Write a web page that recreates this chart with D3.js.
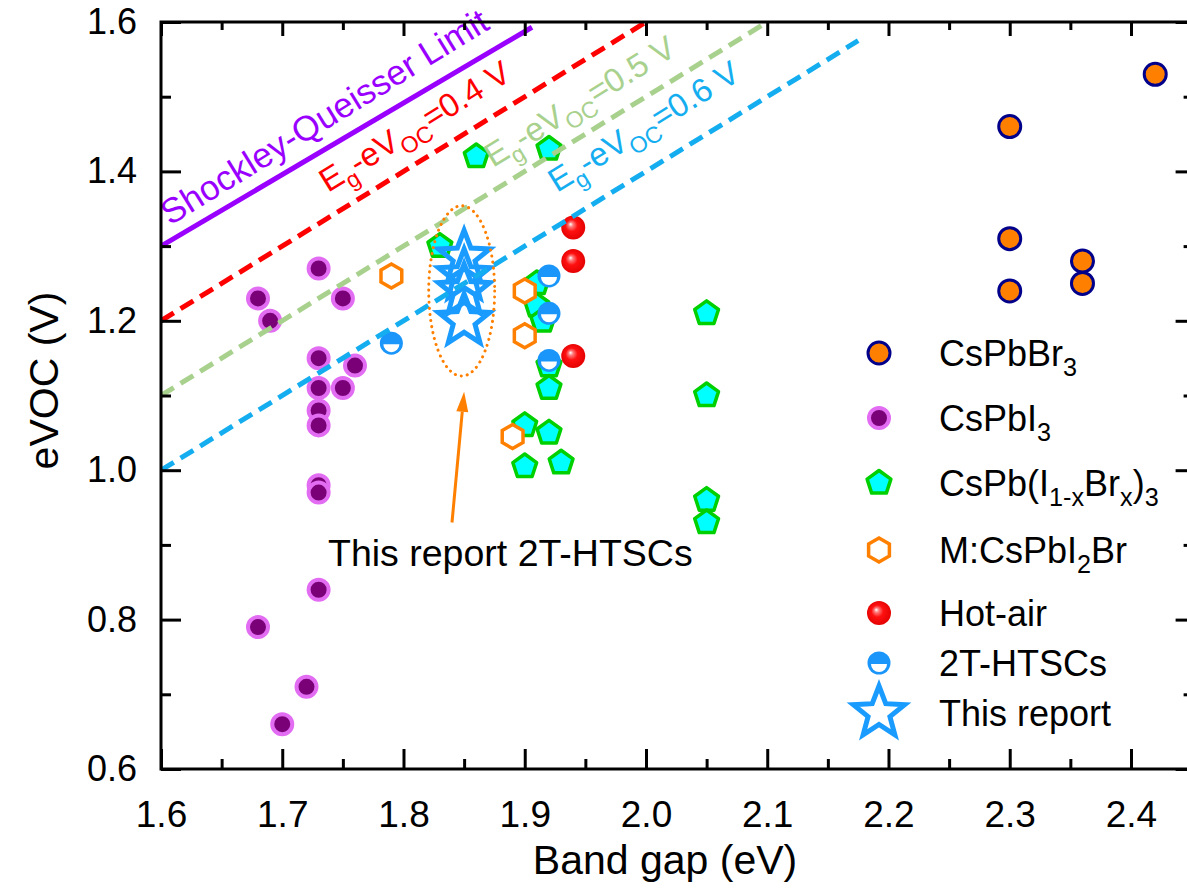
<!DOCTYPE html>
<html>
<head>
<meta charset="utf-8">
<script src="https://cdn.jsdelivr.net/npm/d3@7"></script>
<style>
  body { margin: 0; background: #fff; }
  svg { display: block; font-family: "Liberation Sans", Arial, sans-serif; }
</style>
</head>
<body>
<script>
// ---- data ----
const xTicks = [1.6, 1.7, 1.8, 1.9, 2.0, 2.1, 2.2, 2.3, 2.4];
const yTicks = [0.6, 0.8, 1.0, 1.2, 1.4, 1.6];

const cspbbr3X = [2.30, 2.30, 2.30, 2.36, 2.36, 2.42];
const cspbbr3Y = [1.46, 1.31, 1.24, 1.28, 1.25, 1.53];

const cspbi3X = [1.68, 1.69, 1.73, 1.75, 1.73, 1.76, 1.73, 1.75, 1.73, 1.73, 1.73, 1.73, 1.73, 1.68, 1.72, 1.70];
const cspbi3Y = [1.23, 1.20, 1.27, 1.23, 1.15, 1.14, 1.11, 1.11, 1.08, 1.06, 0.98, 0.97, 0.84, 0.79, 0.71, 0.66];

const mixedX = [1.86, 1.92, 1.83, 1.91, 1.91, 1.915, 1.92, 1.92, 1.90, 1.92, 1.90, 1.93, 2.05, 2.05, 2.05, 2.05];
const mixedY = [1.42, 1.43, 1.30, 1.25, 1.22, 1.20, 1.14, 1.11, 1.06, 1.05, 1.005, 1.01, 1.21, 1.10, 0.96, 0.93];

const dopedX = [1.79, 1.90, 1.90, 1.89];
const dopedY = [1.26, 1.24, 1.18, 1.045];

const hotAirX = [1.94, 1.94, 1.94];
const hotAirY = [1.325, 1.28, 1.153];

const htscX = [1.79, 1.92, 1.92, 1.92];
const htscY = [1.17, 1.26, 1.21, 1.147];

const reportX = [1.85, 1.85, 1.85, 1.85];
const reportY = [1.285, 1.26, 1.24, 1.20];

// reference lines: Shockley-Queisser limit and Eg - eVoc offsets
const sqX = [1.60, 1.906];
const sqY = [1.30, 1.593];
const offsetValues = [0.4, 0.5, 0.6];
const offsetEndX = [2.0, 2.1, 2.175];

// ---- layout ----
const W = 1187, H = 890;
const x = d3.scaleLinear().domain([1.6, 2.45]).range([161, 1191.6]);
const y = d3.scaleLinear().domain([0.6, 1.6]).range([769, 22]);

const svg = d3.select("body").append("svg").attr("width", W).attr("height", H);
const defs = svg.append("defs");

const grad = defs.append("radialGradient").attr("id", "sphere")
  .attr("cx", "0.5").attr("cy", "0.5").attr("r", "0.55").attr("fx", "0.38").attr("fy", "0.36");
grad.append("stop").attr("offset", "0").attr("stop-color", "#ffffff");
grad.append("stop").attr("offset", "0.18").attr("stop-color", "#ff7a7a");
grad.append("stop").attr("offset", "0.45").attr("stop-color", "#ff1010");
grad.append("stop").attr("offset", "1").attr("stop-color", "#e00000");

defs.append("clipPath").attr("id", "plotClip").append("rect")
  .attr("x", x(1.6)).attr("y", y(1.6)).attr("width", x(2.45) - x(1.6)).attr("height", y(0.6) - y(1.6));

// ---- marker shapes ----
function polygonPath(n, R, rot) {
  const pts = d3.range(n).map(i => {
    const a = rot + i * 2 * Math.PI / n;
    return [R * Math.cos(a), R * Math.sin(a)];
  });
  return "M" + pts.map(p => p.join(",")).join("L") + "Z";
}
function starPath(R, r) {
  const pts = d3.range(10).map(i => {
    const a = -Math.PI / 2 + i * Math.PI / 5;
    const rr = i % 2 === 0 ? R : r;
    return [rr * Math.cos(a), rr * Math.sin(a)];
  });
  return "M" + pts.map(p => p.join(",")).join("L") + "Z";
}

const markers = {
  cspbbr3: g => g.append("circle").attr("r", 11).attr("fill", "#ff8000").attr("stroke", "#00008b").attr("stroke-width", 3),
  cspbi3: g => g.append("circle").attr("r", 10).attr("fill", "#7a0078").attr("stroke", "#e26cf2").attr("stroke-width", 4),
  mixed: g => g.append("path").attr("d", polygonPath(5, 12.5, -Math.PI / 2)).attr("fill", "#00ffff").attr("stroke", "#00d000").attr("stroke-width", 3.5).attr("stroke-linejoin", "round"),
  doped: g => g.append("path").attr("d", polygonPath(6, 12, -Math.PI / 2)).attr("fill", "#ffffff").attr("stroke", "#ff8000").attr("stroke-width", 3.5),
  hotAir: g => g.append("circle").attr("r", 12).attr("fill", "url(#sphere)"),
  htsc: g => {
    g.append("circle").attr("r", 11.5).attr("fill", "#1a96fa");
    g.append("path").attr("d", "M-8,1 A8,8 0 0,0 8,1 Z").attr("fill", "#ffffff");
  },
  report: g => g.append("path").attr("d", starPath(27, 11.5)).attr("fill", "none").attr("stroke", "#1a9bff").attr("stroke-width", 5).attr("stroke-linejoin", "miter")
};

const series = [
  { key: "cspbbr3", xs: cspbbr3X, ys: cspbbr3Y },
  { key: "cspbi3", xs: cspbi3X, ys: cspbi3Y },
  { key: "mixed", xs: mixedX, ys: mixedY },
  { key: "doped", xs: dopedX, ys: dopedY },
  { key: "hotAir", xs: hotAirX, ys: hotAirY },
  { key: "htsc", xs: htscX, ys: htscY },
  { key: "report", xs: reportX, ys: reportY }
];

const plot = svg.append("g").attr("clip-path", "url(#plotClip)");

series.forEach(s => {
  const pts = s.xs.map((v, i) => ({ x: v, y: s.ys[i] }));
  plot.append("g").selectAll("g").data(pts).join("g")
    .attr("transform", d => `translate(${x(d.x)},${y(d.y)})`)
    .each(function () { markers[s.key](d3.select(this)); });
});

// ---- reference lines ----
const line = d3.line().x(d => x(d[0])).y(d => y(d[1]));
plot.append("path").attr("d", line(sqX.map((v, i) => [v, sqY[i]])))
  .attr("stroke", "#9a00ff").attr("stroke-width", 5).attr("fill", "none");

const offsetColors = ["#ff0000", "#a9d18e", "#14aef0"];
offsetValues.forEach((off, i) => {
  plot.append("path")
    .attr("d", line([[1.6, 1.6 - off], [offsetEndX[i], offsetEndX[i] - off]]))
    .attr("stroke", offsetColors[i]).attr("stroke-width", 5)
    .attr("stroke-dasharray", "15,8").attr("fill", "none");
});

// angle of a unit-slope line in screen space
const angle = Math.atan2(y(1) - y(0), x(1) - x(0)) * 180 / Math.PI;

// text with subscripts, shifting the baseline only where it changes
function rich(textSel, parts, size) {
  let shift = 0;
  parts.forEach(p => {
    const t = textSel.append("tspan").text(p.t);
    const target = p.sub ? size * 0.28 : 0;
    if (target !== shift) { t.attr("dy", target - shift); shift = target; }
    if (p.sub) t.attr("font-size", size * 0.7);
  });
}

function slopeLabel(px, py, parts, color, size) {
  const t = svg.append("text")
    .attr("transform", `translate(${px},${py}) rotate(${angle})`)
    .attr("fill", color).attr("font-size", size);
  rich(t, parts, size);
}
slopeLabel(170, 226, [{ t: "Shockley-Queisser Limit" }], "#9a00ff", 35);
const offsetLabelPos = [[328, 193], [493, 168], [557, 193]];
offsetValues.forEach((off, i) => {
  slopeLabel(offsetLabelPos[i][0], offsetLabelPos[i][1],
    [{ t: "E" }, { t: "g", sub: true }, { t: "-eV" }, { t: "OC", sub: true }, { t: "=" + off.toFixed(1) + " V" }],
    offsetColors[i], 33);
});

// ---- highlight ellipse and arrow ----
svg.append("ellipse")
  .attr("cx", x(1.848)).attr("cy", y(1.24))
  .attr("rx", x(1.6 + 0.0272) - x(1.6)).attr("ry", y(0.6) - y(0.6 + 0.114))
  .attr("fill", "none").attr("stroke", "#ff8000").attr("stroke-width", 3)
  .attr("stroke-dasharray", "0.1,6").attr("stroke-linecap", "round");

const arrowFrom = [1.84, 0.93], arrowTo = [1.85, 1.105];
const ax0 = x(arrowFrom[0]), ay0 = y(arrowFrom[1]), ax1 = x(arrowTo[0]), ay1 = y(arrowTo[1]);
const ang = Math.atan2(ay1 - ay0, ax1 - ax0);
const headLen = 20, headW = 6;
const bx = ax1 - headLen * Math.cos(ang), by = ay1 - headLen * Math.sin(ang);
svg.append("line").attr("x1", ax0).attr("y1", ay0).attr("x2", bx).attr("y2", by)
  .attr("stroke", "#ff8000").attr("stroke-width", 3);
svg.append("path")
  .attr("d", `M${ax1},${ay1}L${bx + headW * Math.sin(ang)},${by - headW * Math.cos(ang)}L${bx - headW * Math.sin(ang)},${by + headW * Math.cos(ang)}Z`)
  .attr("fill", "#ff8000");

svg.append("text").attr("x", 328).attr("y", 566).attr("font-size", 37.5).attr("fill", "#000")
  .text("This report 2T-HTSCs");

// ---- legend ----
const legendLabels = [
  [{ t: "CsPbBr" }, { t: "3", sub: true }],
  [{ t: "CsPbI" }, { t: "3", sub: true }],
  [{ t: "CsPb(I" }, { t: "1-x", sub: true }, { t: "Br" }, { t: "x", sub: true }, { t: ")" }, { t: "3", sub: true }],
  [{ t: "M:CsPbI" }, { t: "2", sub: true }, { t: "Br" }],
  [{ t: "Hot-air" }],
  [{ t: "2T-HTSCs" }],
  [{ t: "This report" }]
];
const legendRows = [353, 418, 483, 550, 613, 663, 713];
series.forEach((s, i) => {
  const g = svg.append("g").attr("transform", `translate(879,${legendRows[i]})`);
  markers[s.key](g);
  const t = svg.append("text").attr("x", 939).attr("y", legendRows[i] + 13)
    .attr("font-size", 36).attr("fill", "#000");
  rich(t, legendLabels[i], 36);
});

// ---- axes and frame ----
const minorX = d3.range(1.65, 2.45, 0.1);
const minorY = d3.range(0.7, 1.6, 0.2);

function styleAxis(g) {
  g.select(".domain").remove();
  g.selectAll(".tick line").attr("stroke", "#000").attr("stroke-width", 3);
  g.selectAll(".tick text").attr("fill", "#000").attr("font-family", "'Liberation Sans', Arial, sans-serif");
}

svg.append("g").attr("transform", `translate(0,${y(0.6)})`)
  .call(d3.axisBottom(x).tickValues(xTicks).tickSize(-20).tickPadding(32).tickFormat(d3.format(".1f")))
  .call(styleAxis).call(g => g.selectAll(".tick text").attr("font-size", 37));
svg.append("g").attr("transform", `translate(0,${y(0.6)})`)
  .call(d3.axisBottom(x).tickValues(minorX).tickSize(-10).tickFormat(""))
  .call(styleAxis);
svg.append("g").attr("transform", `translate(0,${y(1.6)})`)
  .call(d3.axisTop(x).tickValues(xTicks).tickSize(-14).tickFormat(""))
  .call(styleAxis);
svg.append("g").attr("transform", `translate(0,${y(1.6)})`)
  .call(d3.axisTop(x).tickValues(minorX).tickSize(-8).tickFormat(""))
  .call(styleAxis);

svg.append("g").attr("transform", `translate(${x(1.6)},0)`)
  .call(d3.axisLeft(y).tickValues(yTicks).tickSize(-20).tickPadding(24).tickFormat(d3.format(".1f")))
  .call(styleAxis).call(g => g.selectAll(".tick text").attr("font-size", 36));
svg.append("g").attr("transform", `translate(${x(1.6)},0)`)
  .call(d3.axisLeft(y).tickValues(minorY).tickSize(-10).tickFormat(""))
  .call(styleAxis);
svg.append("g").attr("transform", `translate(${x(2.45)},0)`)
  .call(d3.axisRight(y).tickValues(yTicks).tickSize(-16).tickFormat(""))
  .call(styleAxis);
svg.append("g").attr("transform", `translate(${x(2.45)},0)`)
  .call(d3.axisRight(y).tickValues(minorY).tickSize(-8).tickFormat(""))
  .call(styleAxis);

svg.append("rect")
  .attr("x", x(1.6)).attr("y", y(1.6)).attr("width", x(2.45) - x(1.6)).attr("height", y(0.6) - y(1.6))
  .attr("fill", "none").attr("stroke", "#000").attr("stroke-width", 3);

// ---- axis titles ----
svg.append("text").attr("x", 665).attr("y", 874).attr("text-anchor", "middle")
  .attr("font-size", 41).attr("fill", "#000").text("Band gap (eV)");
svg.append("text").attr("transform", `translate(58,${y(1.12)}) rotate(-90)`).attr("text-anchor", "middle")
  .attr("font-size", 41).attr("fill", "#000").text("eVOC (V)");
</script>
</body>
</html>
